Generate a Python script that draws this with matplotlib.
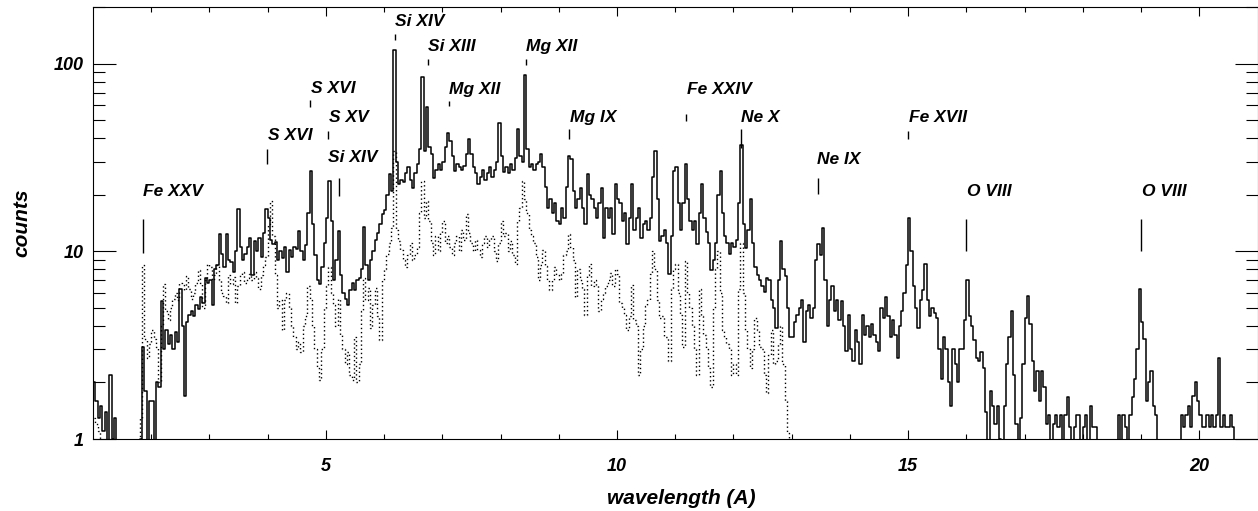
import numpy as np
import matplotlib
matplotlib.use("Agg")
import matplotlib.pyplot as plt
from matplotlib.ticker import FixedLocator, NullFormatter, LogLocator

# counts in 0.04 A bins, solid spectrum, 1 - 21 A (25 bins per A)
solid_1_5 = [
    2.0, 1.6, 1.3, 1.5, 1.1, 1.4, 0.8, 2.2, 1.0, 1.3, 0.5, 0.5, 0.5, 0.5, 0.5, 0.5, 0.5, 0.5, 0.5, 0.5, 1.0, 3.1, 1.8, 0.9, 1.6,
    1.6, 0.8, 2.0, 1.9, 5.4, 3.0, 3.8, 3.2, 3.6, 3.0, 3.7, 3.3, 6.3, 4.0, 1.7, 4.2, 4.6, 4.8, 4.5, 5.2, 4.9, 5.7, 5.3, 7.2, 6.8,
    7.0, 5.2, 8.0, 8.4, 12.4, 9.7, 8.2, 12.4, 9.0, 8.8, 7.8, 10.0, 16.8, 10.5, 9.0, 9.7, 10.5, 11.8, 7.5, 11.4, 10.0, 11.8, 9.3, 12.5, 16.8,
    15.0, 11.5, 10.9, 11.2, 9.0, 10.0, 9.2, 10.5, 7.8, 10.2, 9.3, 10.6, 10.3, 12.8, 10.0, 9.0, 10.8, 16.0, 26.8, 14.0, 9.5, 7.0, 6.7, 8.2, 11.0,
]
solid_5_9 = [
    15.0, 23.6, 14.5, 7.0, 9.0, 12.8, 7.5, 6.0, 5.6, 5.2, 6.2, 6.8, 6.2, 7.0, 7.2, 8.0, 13.5, 8.5, 7.0, 9.0, 10.0, 11.5, 12.5, 14.0, 15.8,
    16.5, 20, 25.8, 21, 118, 30, 22.7, 24, 23.5, 26, 28, 24, 21.7, 26, 29, 35, 85, 34, 59, 36, 33, 24.5, 27, 29, 27,
    30, 36, 42.6, 38.6, 32, 26.8, 29, 28, 27, 28.5, 33, 39.5, 33, 28, 26, 22.7, 25, 27, 24, 26, 28, 25, 27, 30, 48,
    32, 26.5, 28, 26, 29, 27, 31.3, 45, 32, 30, 87, 35, 28, 29, 27, 29, 30, 33, 28, 22, 17, 19, 16, 18, 14.5,
]
solid_9_13 = [
    14, 17, 15, 22, 32, 31, 21, 17, 19, 21.7, 17, 14, 25.8, 20, 19, 17, 15, 18, 21.7, 11.8, 17, 15, 17, 12.4, 22.7,
    19, 18, 14.5, 16, 10.9, 15, 22.7, 13, 15, 17, 11.8, 14, 14.5, 13, 15, 25, 34, 19, 11.4, 12, 13, 11, 7.6, 12, 26.8,
    28, 18, 13, 18, 29, 19, 14.5, 13, 14.5, 10.9, 16, 22.7, 15, 12.6, 11, 7.9, 9, 11, 20, 26.8, 16, 12, 11, 9.7, 11,
    10.5, 11.5, 18, 37, 14, 10.4, 13, 19, 11, 8.2, 7.5, 7.0, 6.5, 6.1, 7.2, 7.0, 5.5, 5.0, 3.9, 7.0, 11.4, 8.0, 7.4, 5.0, 3.5,
]
solid_13_17 = [
    3.5, 4.2, 4.6, 5.0, 5.5, 3.3, 4.8, 5.2, 4.4, 5.0, 9.0, 10.9, 9.5, 13.3, 7.0, 4.0, 5.5, 6.5, 4.8, 5.5, 4.3, 5.4, 4.0, 2.95, 4.6,
    3.0, 2.6, 3.8, 3.3, 2.5, 4.6, 3.6, 4.0, 3.5, 4.1, 3.6, 3.3, 2.95, 5.0, 4.4, 5.7, 4.5, 3.5, 4.3, 3.6, 2.7, 4.0, 4.8, 6.0, 8.5,
    15, 10, 6.5, 5.0, 3.9, 5.5, 6.2, 8.6, 5.5, 4.5, 5.0, 4.7, 4.4, 3.0, 2.1, 3.5, 3.0, 2.0, 1.5, 3.0, 2.5, 2.0, 3.0, 3.0, 4.3,
    7.0, 4.5, 4.0, 3.35, 2.7, 2.6, 2.9, 2.4, 1.4, 0.8, 1.8, 1.5, 1.2, 1.5, 1.0, 0.8, 1.5, 2.5, 3.5, 4.8, 2.2, 1.2, 0.9, 1.3, 2.5,
]
solid_17_21 = [
    4.4, 5.8, 4.1, 2.6, 1.8, 2.3, 1.6, 2.3, 1.9, 1.2, 1.34, 0.8, 1.2, 1.34, 1.16, 1.34, 0.8, 1.34, 1.67, 1.16, 0.8, 1.16, 1.34, 1.34, 0.8,
    1.16, 1.34, 0.8, 1.5, 1.16, 1.16, 0.5, 0.5, 0.5, 0.5, 0.5, 0.5, 0.5, 0.5, 0.5, 1.34, 0.8, 1.34, 1.16, 0.8, 1.34, 1.67, 2.1, 3.0, 6.3,
    4.2, 3.4, 1.6, 2.0, 2.3, 1.5, 1.34, 0.5, 0.5, 0.5, 0.5, 0.5, 0.5, 0.5, 0.5, 0.5, 0.8, 1.34, 1.16, 1.34, 1.5, 1.16, 1.7, 2.0, 1.6,
    1.34, 1.16, 1.16, 1.34, 1.16, 1.34, 1.16, 1.34, 2.7, 1.16, 1.34, 1.16, 1.16, 1.34, 1.16, 0.5, 0.5, 0.5, 0.5, 0.5, 0.5, 0.5, 0.5, 0.5, 0.5,
]

# dotted spectrum, 1 - 13 A, same binning
dotted_1_5 = [
    1.3, 1.2, 1.1, 0.5, 0.5, 0.5, 0.5, 0.5, 0.5, 0.5, 0.5, 0.5, 0.5, 0.5, 0.5, 0.5, 0.5, 0.5, 0.5, 0.5, 1.3, 8.4, 3.4, 2.7, 3.2,
    3.8, 3.4, 3.1, 2.0, 4.0, 6.7, 4.8, 4.3, 5.0, 5.6, 6.0, 5.5, 6.8, 6.6, 6.2, 7.4, 6.3, 5.6, 6.0, 6.8, 7.9, 6.8, 5.0, 7.0, 8.6,
    8.2, 7.0, 7.5, 8.5, 7.0, 6.0, 5.8, 5.3, 7.5, 6.7, 7.3, 5.3, 6.5, 7.5, 7.8, 6.8, 7.2, 7.6, 7.0, 7.8, 7.2, 6.3, 7.5, 8.5, 9.3,
    14, 18.5, 12, 7.5, 5.0, 5.5, 3.8, 5.5, 6.0, 5.0, 4.0, 3.5, 3.0, 3.3, 2.9, 4.0, 4.5, 6.5, 5.5, 4.0, 3.0, 2.4, 2.05, 3.0, 5.0,
]
dotted_5_9 = [
    6.5, 8.2, 6.0, 5.2, 4.0, 5.6, 3.6, 3.0, 2.5, 2.9, 2.2, 2.05, 3.5, 2.0, 2.5, 4.8, 7.2, 5.5, 6.4, 3.9, 5.2, 6.4, 4.5, 3.35, 7.0,
    8.0, 9.7, 11, 13.3, 34, 13, 11.4, 10.2, 9.0, 8.2, 9.5, 11, 9.0, 9.5, 10.5, 16, 23.6, 15, 18.5, 14.5, 11, 9.5, 12, 10, 12.5,
    14.5, 11, 12, 10.5, 9.5, 11, 12, 10, 13, 11.5, 15.8, 12.5, 11, 10, 11.5, 10.2, 9.3, 11, 12, 10.5, 11.5, 12, 10, 8.9, 11,
    14.5, 12, 12.5, 10, 11.4, 9.5, 8.6, 14.5, 17, 23.6, 19, 16, 13, 12, 11, 9.3, 7.0, 8.5, 10.2, 8.3, 7.0, 6.2, 7.0, 8.2, 7.5,
]
dotted_9_13 = [
    7.0, 7.6, 9.5, 10, 12.4, 10.5, 9.0, 5.7, 8.0, 7.0, 6.3, 4.6, 7.5, 8.6, 6.5, 7.0, 6.6, 4.8, 5.6, 6.0, 6.5, 7.0, 7.7, 6.5, 8.0,
    7.6, 5.3, 5.0, 4.6, 3.8, 4.5, 6.6, 4.3, 4.0, 2.2, 3.0, 4.0, 5.1, 5.5, 7.6, 10, 8.0, 5.5, 4.4, 4.5, 3.5, 3.5, 2.6, 6.3, 8.0,
    8.6, 6.0, 4.6, 3.1, 8.9, 6.0, 5.0, 4.0, 3.0, 2.2, 6.3, 4.5, 3.6, 3.0, 2.4, 1.9, 5.0, 8.0, 10, 6.0, 3.8, 3.5, 3.2, 3.0, 2.2,
    2.5, 2.2, 6.3, 11, 6.0, 3.8, 3.0, 2.4, 3.0, 4.4, 3.8, 3.1, 3.0, 2.2, 1.75, 2.8, 3.8, 2.5, 2.6, 3.2, 4.0, 2.5, 1.6, 1.07, 0.5,
]

# line identifications
line_names = ['Fe XXV', 'S XVI', 'S XVI', 'S XV', 'Si XIV', 'Si XIV', 'Si XIII', 'Mg XII',
              'Mg XII', 'Mg IX', 'Fe XXIV', 'Ne X', 'Ne IX', 'Fe XVII', 'O VIII', 'O VIII']
line_wl = [1.86, 3.99, 4.73, 5.04, 5.22, 6.18, 6.75, 7.11, 8.43, 9.18, 11.18, 12.13, 13.45, 15.0, 16.0, 19.0]
text_wl = [1.86, 4.00, 4.74, 5.05, 5.03, 6.18, 6.75, 7.11, 8.43, 9.20, 11.21, 12.13, 13.44, 15.01, 16.01, 19.01]
text_y = [19.6, 39.3, 69.7, 48.9, 30.0, 158, 116.5, 68.9, 116.5, 48.9, 68.9, 48.9, 29.3, 48.9, 19.8, 19.8]
mark_top = [14.9, 35, 63.7, 43.6, 24.5, 144, 106, 62.9, 106, 44.7, 53.6, 44.7, 24.5, 43.6, 14.9, 14.9]
mark_bottom = [9.8, 29.1, 58.4, 39.5, 19.7, 134, 98.8, 59.1, 98.8, 39.5, 49.2, 35.4, 20.2, 39.5, 10, 10]

solid = np.array(solid_1_5 + solid_5_9 + solid_9_13 + solid_13_17 + solid_17_21)
dotted = np.array(dotted_1_5 + dotted_5_9 + dotted_9_13)
bin_width = 0.04
wl_solid = 1.0 + bin_width * (np.arange(len(solid)) + 0.5)
wl_dotted = 1.0 + bin_width * (np.arange(len(dotted)) + 0.5)

plt.rcParams['font.family'] = ['Liberation Sans', 'DejaVu Sans']
plt.rcParams['font.weight'] = 'bold'
plt.rcParams['font.style'] = 'italic'

fig = plt.figure(figsize=(12.58, 5.11), dpi=100)
ax = fig.add_axes([93 / 1258, 1 - 439 / 511, 1164.5 / 1258, 432 / 511])

# histogram-style spectra
ax.plot(wl_dotted, dotted, color='black', lw=1.0, linestyle=(0, (1, 2)), drawstyle='steps-mid')
ax.plot(wl_solid, solid, color='black', lw=1.1, drawstyle='steps-mid')

for name, wl, twl, ty, top, bot in zip(line_names, line_wl, text_wl, text_y, mark_top, mark_bottom):
    ax.vlines(wl, bot, top, color='black', lw=1.0)
    ax.text(twl, ty, name, ha='left', va='baseline', fontsize=12.5,
            fontweight='bold', fontstyle='italic')

ax.set_yscale('log')
ax.set_xlim(1, 21)
ax.set_ylim(1, 200)

ax.xaxis.set_major_locator(FixedLocator([5, 10, 15, 20]))
ax.xaxis.set_minor_locator(FixedLocator(range(2, 21)))
ax.yaxis.set_major_locator(FixedLocator([1, 10, 100]))
ax.yaxis.set_minor_locator(LogLocator(base=10, subs=np.arange(2, 10)))
ax.yaxis.set_minor_formatter(NullFormatter())
ax.set_yticklabels(['1', '10', '100'])

ax.tick_params(axis='both', which='both', direction='in', top=True, right=True, width=0.8,
               labelsize=13)
ax.tick_params(axis='x', which='major', length=6.5, pad=14)
ax.tick_params(axis='x', which='minor', length=3.6)
ax.tick_params(axis='y', which='major', length=16.5, pad=6.5)
ax.tick_params(axis='y', which='minor', length=8.6)
for s in ax.spines.values():
    s.set_linewidth(0.8)

ax.set_xlabel('wavelength (A)', fontsize=15, fontweight='bold', fontstyle='italic')
ax.xaxis.set_label_coords(0.505, -0.115)
ax.set_ylabel('counts', fontsize=15, fontweight='bold', fontstyle='italic')
ax.yaxis.set_label_coords(-0.053, 0.5)

fig.savefig('out.png', dpi=100)
